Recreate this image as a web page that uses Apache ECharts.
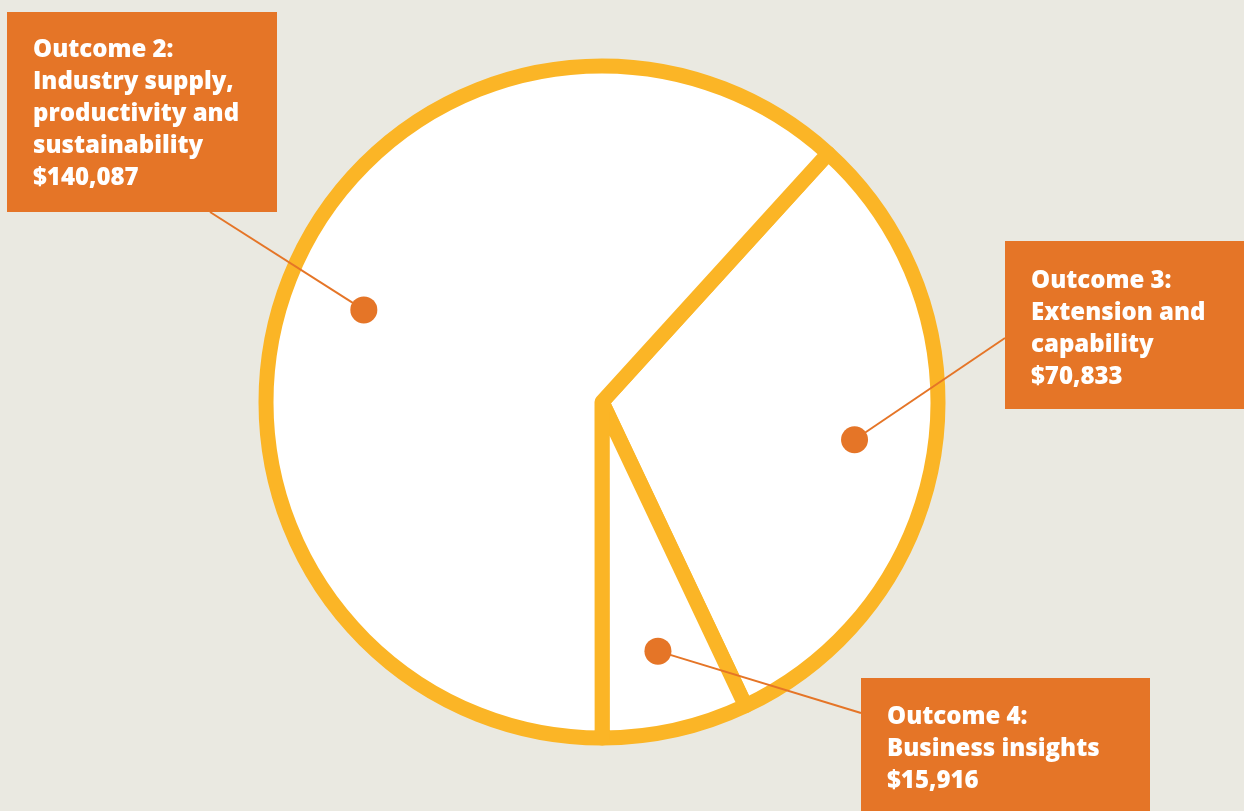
<!DOCTYPE html>
<html>
<head>
<meta charset="utf-8">
<script src="https://cdn.jsdelivr.net/npm/echarts@6/dist/echarts.min.js"></script>
<style>
  html, body { margin: 0; padding: 0; background: #EAE9E1; }
  #chart { width: 1244px; height: 811px; }
</style>
</head>
<body>
<div id="chart"></div>
<script>
// data, in the clockwise order of the slices starting from the upper-right boundary
const outcomeNames = [
  'Outcome 3:\nExtension and\ncapability',
  'Outcome 4:\nBusiness insights',
  'Outcome 2:\nIndustry supply,\nproductivity and\nsustainability'
]
const outcomeValues = [70833, 15916, 140087]

// callout boxes: top-left, width, padding, and the point where the leader line meets the box
const boxes = [
  { x: 1005, y: 241, w: 260, pad: [24, 0, 16, 26], end: [1005, 338] },
  { x: 861, y: 678, w: 289, pad: [23, 0, 40, 26], end: [861, 713] },
  { x: 7, y: 12, w: 270, pad: [22, 0, 18, 26], end: [210, 212] },
]

const ORANGE = '#E57527'
const YELLOW = '#FBB526'
const CENTER = [602, 402]
const R = 336
const START = 47.7
const DOT_R = 0.76

const total = outcomeValues.reduce((a, b) => a + b, 0)
// mid angle of each slice (in value units), used to place the dots
const mids = []
let acc = 0
outcomeValues.forEach(v => { mids.push(acc + v / 2); acc += v })

const chart = echarts.init(document.getElementById('chart'))
chart.setOption({
  backgroundColor: '#EAE9E1',
  animation: false,
  polar: { center: CENTER, radius: R },
  angleAxis: { type: 'value', min: 0, max: total, startAngle: START, clockwise: true, show: false },
  radiusAxis: { type: 'value', min: 0, max: 1, show: false },
  series: [
    {
      type: 'pie',
      center: CENTER,
      radius: R,
      startAngle: START,
      clockwise: true,
      silent: true,
      label: { show: false },
      labelLine: { show: false },
      itemStyle: { color: '#ffffff', borderColor: YELLOW, borderWidth: 15 },
      emphasis: { disabled: true },
      data: outcomeNames.map((n, i) => ({ name: n, value: outcomeValues[i] }))
    },
    {
      type: 'scatter',
      coordinateSystem: 'polar',
      silent: true,
      symbol: 'circle',
      symbolSize: 27,
      itemStyle: { color: ORANGE, opacity: 1 },
      emphasis: { disabled: true },
      z: 5,
      data: mids.map((m, i) => ({
        name: outcomeNames[i],
        value: [DOT_R, m],
        label: { padding: boxes[i].pad, width: boxes[i].w - boxes[i].pad[3] }
      })),
      label: {
        show: true,
        formatter: p => p.name + '\n$' + outcomeValues[p.dataIndex].toLocaleString('en-US'),
        color: '#ffffff',
        fontFamily: 'Open Sans',
        fontWeight: 800,
        fontSize: 24,
        lineHeight: 32,
        align: 'left',
        backgroundColor: ORANGE
      },
      labelLayout: function (params) {
        const b = boxes[params.dataIndex]
        return { x: b.x, y: b.y, align: 'left', verticalAlign: 'top', hideOverlap: false }
      }
    }
  ]
})

// leader lines from each dot (placed by the polar scale) to its box
const leaderLines = mids.map((m, i) => {
  const p = chart.convertToPixel({ polarIndex: 0 }, [DOT_R, m])
  return {
    type: 'line',
    z: 4,
    silent: true,
    shape: { x1: p[0], y1: p[1], x2: boxes[i].end[0], y2: boxes[i].end[1] },
    style: { stroke: ORANGE, lineWidth: 2 }
  }
})
chart.setOption({ graphic: leaderLines })
</script>
</body>
</html>
